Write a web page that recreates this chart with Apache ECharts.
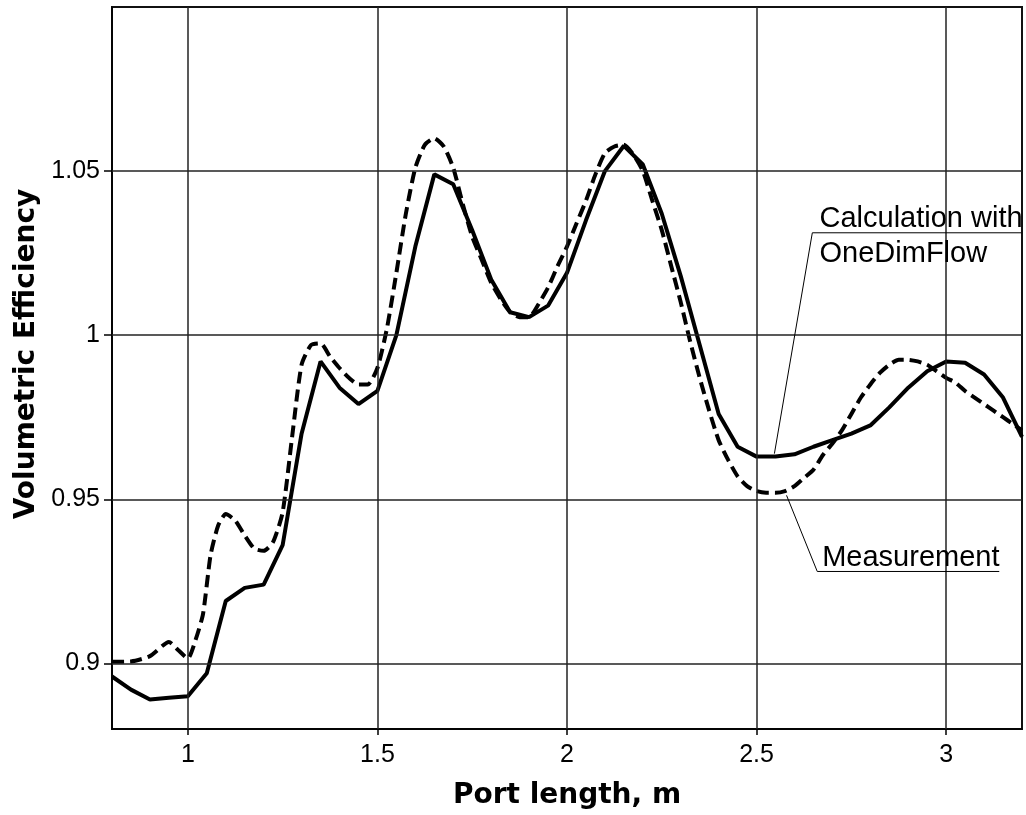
<!DOCTYPE html>
<html lang="en">
<head>
<meta charset="UTF-8">
<title>Volumetric Efficiency</title>
<script src="https://cdn.jsdelivr.net/npm/echarts@6/dist/echarts.min.js"></script>
<style>html, body {margin: 0; padding: 0; background: #fff;}</style>
</head>
<body>
<div id="chart" style="width: 1026px; height: 815px"></div>
<script type="text/javascript">
// calculation with OneDimFlow (solid)
const calcX = [0.8, 0.85, 0.9, 0.95, 1.0, 1.05, 1.1, 1.15, 1.2, 1.25, 1.3, 1.35, 1.4, 1.45, 1.5, 1.55, 1.6,
    1.65, 1.7, 1.75, 1.8, 1.85, 1.9, 1.95, 2.0, 2.05, 2.1, 2.15, 2.2, 2.25, 2.3, 2.35, 2.4, 2.45, 2.5,
    2.55, 2.6, 2.65, 2.7, 2.75, 2.8, 2.85, 2.9, 2.95, 3.0, 3.05, 3.1, 3.15, 3.2];
const calcY = [0.896, 0.892, 0.889, 0.8895, 0.890, 0.897, 0.919, 0.923, 0.924, 0.936, 0.970, 0.992, 0.984,
    0.979, 0.983, 1.000, 1.027, 1.049, 1.046, 1.032, 1.017, 1.007, 1.0055, 1.009, 1.019, 1.035, 1.050,
    1.0577, 1.052, 1.037, 1.018, 0.997, 0.976, 0.966, 0.963, 0.963, 0.9637, 0.966, 0.968, 0.970, 0.9725,
    0.978, 0.984, 0.989, 0.992, 0.9916, 0.988, 0.981, 0.969];

// measurement (dashed)
const measX = [0.8, 0.85, 0.9, 0.95, 0.975, 1.0, 1.02, 1.04, 1.06, 1.08, 1.1, 1.125, 1.15, 1.175, 1.2,
    1.225, 1.25, 1.275, 1.3, 1.325, 1.35, 1.375, 1.4, 1.425, 1.45, 1.475, 1.5, 1.525, 1.55, 1.575, 1.6,
    1.625, 1.65, 1.675, 1.7, 1.725, 1.75, 1.775, 1.8, 1.825, 1.85, 1.875, 1.9, 1.925, 1.95, 1.975, 2.0,
    2.025, 2.05, 2.075, 2.1, 2.125, 2.15, 2.175, 2.2, 2.225, 2.25, 2.275, 2.3, 2.325, 2.35, 2.375, 2.4,
    2.425, 2.45, 2.475, 2.5, 2.525, 2.55, 2.575, 2.6, 2.625, 2.65, 2.675, 2.7, 2.725, 2.75, 2.775, 2.8,
    2.825, 2.85, 2.875, 2.9, 2.925, 2.95, 2.975, 3.0, 3.025, 3.05, 3.075, 3.1, 3.125, 3.15, 3.175, 3.2];
const measY = [0.9005, 0.9006, 0.9022, 0.9065, 0.904, 0.9015, 0.907, 0.915, 0.933, 0.942, 0.9455, 0.9435,
    0.939, 0.935, 0.9343, 0.937, 0.946, 0.969, 0.991, 0.997, 0.9975, 0.9935, 0.990, 0.987, 0.985, 0.985,
    0.990, 1.002, 1.019, 1.037, 1.051, 1.058, 1.060, 1.0575, 1.051, 1.040, 1.030, 1.023, 1.016, 1.011,
    1.007, 1.0055, 1.0055, 1.0095, 1.0145, 1.021, 1.027, 1.034, 1.041, 1.049, 1.0555, 1.0575, 1.058,
    1.055, 1.050, 1.041, 1.032, 1.021, 1.010, 0.998, 0.987, 0.977, 0.968, 0.962, 0.957, 0.954, 0.9525,
    0.952, 0.952, 0.9525, 0.954, 0.9565, 0.959, 0.9635, 0.967, 0.971, 0.976, 0.981, 0.985, 0.9885, 0.991,
    0.9925, 0.9925, 0.992, 0.991, 0.989, 0.987, 0.9855, 0.983, 0.981, 0.979, 0.977, 0.975, 0.973, 0.971];

const xTicks = [1, 1.5, 2, 2.5, 3];
const yTicks = [0.9, 0.95, 1, 1.05];

// annotation leaders, in data units
const calcLeader = [[3.198, 1.0312], [2.647, 1.0312], [2.547, 0.9639]];
const measLeader = [[2.579, 0.9512], [2.660, 0.928], [3.140, 0.928]];
const calcText = [['Calculation with', 2.666, 1.0354], ['OneDimFlow', 2.666, 1.0248]];
const measText = [['Measurement', 2.673, 0.9321]];

let myChart = echarts.init(document.getElementById('chart'));
const labelFont = {color: '#000', fontFamily: 'Liberation Sans', fontSize: 25};
const nameFont = {color: '#000', fontFamily: 'DejaVu Sans', fontSize: 28, fontWeight: 'bold'};

let gridLines = [];
xTicks.forEach(v => gridLines.push({xAxis: v}));
yTicks.forEach(v => gridLines.push({yAxis: v}));

let option = {
    animation: false,
    grid: {left: 112, right: 4, top: 7, bottom: 84, show: true, borderColor: '#111', borderWidth: 2},
    xAxis: {
        type: 'value', min: 0.8, max: 3.2,
        name: 'Port length, m', nameLocation: 'middle', nameGap: 53, nameTextStyle: nameFont,
        axisLine: {show: true, lineStyle: {color: '#000', width: 1.5}},
        axisTick: {show: true, customValues: xTicks, length: 6, lineStyle: {color: '#000', width: 1.5}},
        axisLabel: Object.assign({customValues: xTicks, margin: 14}, labelFont),
        splitLine: {show: false}
    },
    yAxis: {
        type: 'value', min: 0.88, max: 1.1,
        name: 'Volumetric Efficiency', nameLocation: 'middle', nameGap: 70,
        nameTextStyle: Object.assign({padding: [0, 0, 0, 28]}, nameFont),
        axisLine: {show: true, lineStyle: {color: '#000', width: 1.5}},
        axisTick: {show: true, customValues: yTicks, length: 8, lineStyle: {color: '#000', width: 1.5}},
        axisLabel: Object.assign({customValues: yTicks, margin: 12}, labelFont),
        splitLine: {show: false}
    },
    series: [
        {
            name: 'grid', type: 'line', data: [], z: 1, silent: true,
            markLine: {
                silent: true, symbol: ['none', 'none'], label: {show: false},
                lineStyle: {color: '#222', width: 1.5, type: 'solid'},
                animation: false,
                data: gridLines
            }
        },
        {
            name: 'Calculation with OneDimFlow', type: 'line', z: 3, symbol: 'none',
            lineStyle: {color: '#000', width: 4, type: 'solid'},
            data: calcX.map((x, i) => [x, calcY[i]])
        },
        {
            name: 'Measurement', type: 'line', z: 3, symbol: 'none', smooth: 0.2,
            lineStyle: {color: '#000', width: 4, type: [12, 6]},
            data: measX.map((x, i) => [x, measY[i]])
        }
    ]
};
myChart.setOption(option);

// leader lines and their texts
let gr = [];
[calcLeader, measLeader].forEach(pts => {
    gr.push({
        type: 'polyline', silent: true, z: 10,
        shape: {points: pts.map(p => myChart.convertToPixel({gridIndex: 0}, p))},
        style: {stroke: '#000', lineWidth: 1, fill: null}
    });
});
calcText.concat(measText).forEach(t => {
    let p = myChart.convertToPixel({gridIndex: 0}, [t[1], t[2]]);
    gr.push({
        type: 'text', silent: true, z: 10, x: p[0], y: p[1],
        style: {text: t[0], fill: '#000', fontFamily: 'Liberation Sans', fontSize: 29,
            align: 'left', verticalAlign: 'middle'}
    });
});
myChart.setOption({graphic: gr});
</script>
</body>
</html>
